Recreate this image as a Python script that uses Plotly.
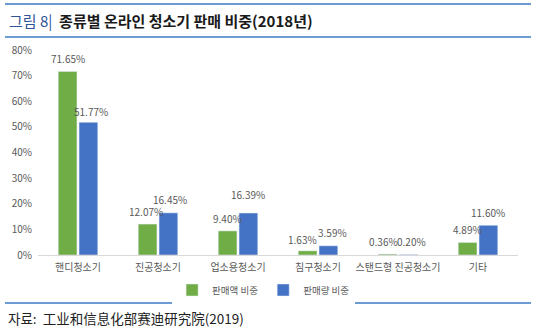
import plotly.graph_objects as go

# Online vacuum cleaner sales share by type, 2018
categories = ["핸디청소기", "진공청소기", "업소용청소기", "침구청소기", "스탠드형 진공청소기", "기타"]
sales_value_share = [71.65, 12.07, 9.40, 1.63, 0.36, 4.89]
sales_volume_share = [51.77, 16.45, 16.39, 3.59, 0.20, 11.60]
y_ticks = [0, 10, 20, 30, 40, 50, 60, 70, 80]
y_tick_labels = [f"{t}%" for t in y_ticks]

# Label placement tweaks (pixels) so neighbouring value labels stay legible
value_label_lift = [0, 0, 0, -1, 0, 0]
value_label_nudge = [0, -2, 0, -5, -4, 0]
volume_label_lift = [-2, 1, 6, 1, 0, 0]
volume_label_nudge = [3, 2, 0, 4, 3, 0]

W, H = 536, 335
ML, MR, MT, MB = 38, 18, 50, 80
FONT = "Noto Sans CJK KR"
LINE_BLUE = "#3D7BC6"
BARGAP, GROUPGAP = 0.48, 0.1


def px_x(x):
    return (x - ML) / (W - ML - MR)


def px_y(y):
    return (H - MB - y) / (H - MT - MB)


fig = go.Figure()
fig.add_bar(name="판매액 비중", x=categories, y=sales_value_share, marker_color="#70AD47")
fig.add_bar(name="판매량 비중", x=categories, y=sales_volume_share, marker_color="#4472C4")

# Horizontal offset of each bar's centre from its category centre
cat_px = (W - ML - MR) / len(categories)
half_slot = cat_px * (1 - BARGAP) / 4

for series, lifts, nudges, sign in (
    (sales_value_share, value_label_lift, value_label_nudge, -1),
    (sales_volume_share, volume_label_lift, volume_label_nudge, 1),
):
    for cat, v, lift, nudge in zip(categories, series, lifts, nudges):
        fig.add_annotation(
            x=cat, y=v, xref="x", yref="y",
            text=f"{v:.2f}%", showarrow=False,
            xanchor="center", yanchor="bottom",
            xshift=sign * half_slot + nudge, yshift=3 + lift,
            font=dict(size=10, color="#595959", family=FONT),
        )

fig.update_layout(
    width=W, height=H,
    margin=dict(l=ML, r=MR, t=MT, b=MB),
    paper_bgcolor="white", plot_bgcolor="white",
    barmode="group", bargap=BARGAP, bargroupgap=GROUPGAP,
    font=dict(family=FONT, color="#595959", size=10),
    showlegend=True,
    legend=dict(
        orientation="h", x=0.47, xanchor="center", y=px_y(290), yanchor="middle",
        font=dict(size=9.5, color="#595959", family=FONT),
        itemwidth=30, tracegroupgap=0,
    ),
    xaxis=dict(
        showline=True, linecolor="#D9D9D9", linewidth=1,
        ticks="", tickfont=dict(size=10, color="#595959"),
        ticklabelstandoff=3, showgrid=False,
    ),
    yaxis=dict(
        range=[0, 80], tickvals=y_ticks, ticktext=y_tick_labels,
        showgrid=False, zeroline=False, showline=False,
        tickfont=dict(size=10, color="#595959"), ticks="",
        ticklabelstandoff=5,
    ),
)

# Header and footer rules
for y in (4, 37, 303):
    fig.add_shape(
        type="line", xref="paper", yref="paper",
        x0=px_x(5), x1=px_x(531), y0=px_y(y), y1=px_y(y),
        line=dict(color=LINE_BLUE, width=1.5),
    )

fig.add_annotation(
    xref="paper", yref="paper", x=px_x(7), y=px_y(20),
    xanchor="left", yanchor="middle", showarrow=False,
    text="<span style='color:#2F5597'>그림 8|</span>  <b>종류별 온라인 청소기 판매 비중(2018년)</b>",
    font=dict(size=15, color="#1a1a1a", family=FONT),
)
fig.add_annotation(
    xref="paper", yref="paper", x=px_x(6), y=px_y(318),
    xanchor="left", yanchor="middle", showarrow=False,
    text="자료:  工业和信息化部赛迪研究院(2019)",
    font=dict(size=13.5, color="#222222", family="Noto Sans CJK SC"),
)

fig.write_html("out.html")
